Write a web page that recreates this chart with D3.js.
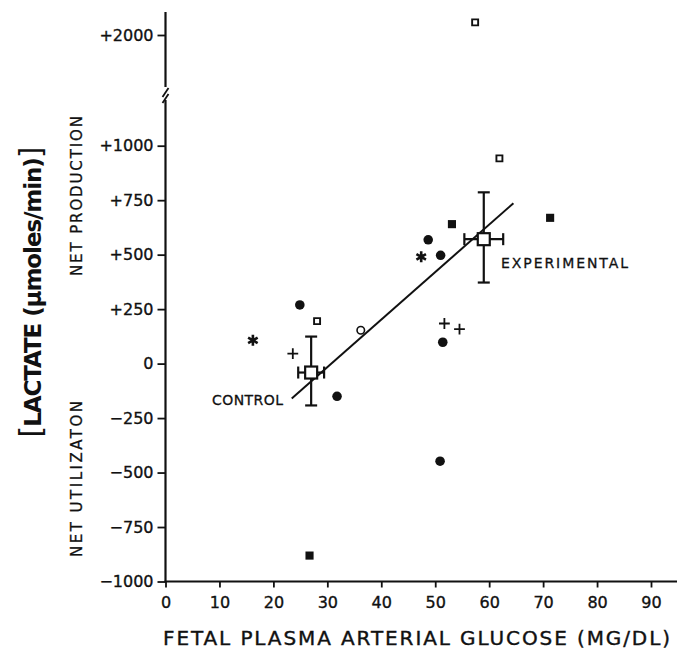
<!DOCTYPE html>
<html>
<head>
<meta charset="utf-8">
<script src="https://cdn.jsdelivr.net/npm/d3@7"></script>
<style>
  body { margin: 0; background: #fff; }
  text { font-family: "DejaVu Sans", sans-serif; fill: #111; }
</style>
</head>
<body>
<div id="chart"></div>
<script>
// values: [glucose mg/dL, lactate umoles/min]
var filledCircles = [[24.9, 269], [31.8, -150], [48.7, 568], [51.0, 497], [51.4, 98], [50.9, -448]];
var filledSquares = [[53.1, 640], [71.3, 669], [26.7, -881]];
var openSquares = [[28.1, 195], [61.9, 942], [57.4, 2058]];
var openCircles = [[36.2, 153]];
var asterisks = [[16.2, 107], [47.4, 490]];
var pluses = [[23.6, 46], [51.7, 184], [54.5, 158]];

var groupNames = ["CONTROL", "EXPERIMENTAL"];
var groupX = [27.0, 59.0];
var groupXErr = [2.4, 3.6];
var groupY = [-41, 571];
var groupYLow = [-192, 372];
var groupYHigh = [124, 786];

var fitX = [23.4, 64.5];
var fitIntercept = -670;
var fitSlope = 21.8;

var xTicks = [0, 10, 20, 30, 40, 50, 60, 70, 80, 90];
var yTicks = [1000, 750, 500, 250, 0, -250, -500, -750, -1000];
var yTickLabels = ["+1000", "+750", "+500", "+250", "0", "\u2212250", "\u2212500", "\u2212750", "\u22121000"];
var yTopTicks = [2000];
var yTopTickLabels = ["+2000"];

var ink = "#111";

var svg = d3.select("#chart").append("svg")
  .attr("width", 677)
  .attr("height", 652);

var x = d3.scaleLinear().domain([0, 90]).range([165.5, 651]);
var y = d3.scaleLinear().domain([-1000, 1000]).range([581.5, 145.7]);
var pxPerUnit = (581.5 - 145.7) / 2000;
var yTop = d3.scaleLinear().domain([1900, 2100]).range([35 + 100 * pxPerUnit, 35 - 100 * pxPerUnit]);

function yPos(v) {
  return v > 1500 ? yTop(v) : y(v);
}

// axes
var xAxis = svg.append("g")
  .attr("transform", "translate(0," + y(-1000) + ")")
  .call(d3.axisBottom(x).tickValues(xTicks).tickSize(6).tickPadding(9));

var yAxis = svg.append("g")
  .attr("transform", "translate(" + x(0) + ",0)")
  .call(d3.axisLeft(y).tickValues(yTicks).tickSize(8).tickPadding(4)
    .tickFormat(function(d, i) { return yTickLabels[i]; }));

var yAxisTop = svg.append("g")
  .attr("transform", "translate(" + x(0) + ",0)")
  .call(d3.axisLeft(yTop).tickValues(yTopTicks).tickSize(8).tickPadding(4)
    .tickFormat(function(d, i) { return yTopTickLabels[i]; }));

[xAxis, yAxis, yAxisTop].forEach(function(g) {
  g.select(".domain").remove();
  g.selectAll("line").attr("stroke", ink).attr("stroke-width", 1.8);
  g.selectAll("text").attr("font-size", 16).attr("fill", ink)
    .attr("stroke", ink).attr("stroke-width", 0.35)
    .style("font-family", "'DejaVu Sans', sans-serif");
});

// axis lines with the break
svg.append("line")
  .attr("x1", x(0) - 1).attr("x2", 677)
  .attr("y1", y(-1000)).attr("y2", y(-1000))
  .attr("stroke", ink).attr("stroke-width", 2.2);

svg.append("line")
  .attr("x1", x(0)).attr("x2", x(0))
  .attr("y1", y(-1000)).attr("y2", 100)
  .attr("stroke", ink).attr("stroke-width", 2.2);

svg.append("line")
  .attr("x1", x(0)).attr("x2", x(0))
  .attr("y1", 12).attr("y2", 87)
  .attr("stroke", ink).attr("stroke-width", 2.2);

svg.selectAll("line.break")
  .data([0, 6])
  .enter().append("line")
    .attr("class", "break")
    .attr("x1", x(0) - 3).attr("x2", x(0) + 3)
    .attr("y1", function(d) { return 97 + d; })
    .attr("y2", function(d) { return 88 + d; })
    .attr("stroke", ink).attr("stroke-width", 1.8);

// regression line
svg.append("line")
  .attr("x1", x(fitX[0])).attr("y1", y(fitIntercept + fitSlope * fitX[0]))
  .attr("x2", x(fitX[1])).attr("y2", y(fitIntercept + fitSlope * fitX[1]))
  .attr("stroke", ink).attr("stroke-width", 2);

// group means with error bars
var groups = svg.selectAll("g.group")
  .data(groupNames)
  .enter().append("g")
    .attr("class", "group");

groups.append("line")
  .attr("x1", function(d, i) { return x(groupX[i]); })
  .attr("x2", function(d, i) { return x(groupX[i]); })
  .attr("y1", function(d, i) { return y(groupYLow[i]); })
  .attr("y2", function(d, i) { return y(groupYHigh[i]); })
  .attr("stroke", ink).attr("stroke-width", 2.2);

groups.append("line")
  .attr("x1", function(d, i) { return x(groupX[i] - groupXErr[i]); })
  .attr("x2", function(d, i) { return x(groupX[i] + groupXErr[i]); })
  .attr("y1", function(d, i) { return y(groupY[i]); })
  .attr("y2", function(d, i) { return y(groupY[i]); })
  .attr("stroke", ink).attr("stroke-width", 2.2);

[groupYLow, groupYHigh].forEach(function(arr) {
  groups.append("line")
    .attr("x1", function(d, i) { return x(groupX[i]) - 6; })
    .attr("x2", function(d, i) { return x(groupX[i]) + 6; })
    .attr("y1", function(d, i) { return y(arr[i]); })
    .attr("y2", function(d, i) { return y(arr[i]); })
    .attr("stroke", ink).attr("stroke-width", 2.2);
});

[-1, 1].forEach(function(s) {
  groups.append("line")
    .attr("x1", function(d, i) { return x(groupX[i] + s * groupXErr[i]); })
    .attr("x2", function(d, i) { return x(groupX[i] + s * groupXErr[i]); })
    .attr("y1", function(d, i) { return y(groupY[i]) - 6; })
    .attr("y2", function(d, i) { return y(groupY[i]) + 6; })
    .attr("stroke", ink).attr("stroke-width", 2.2);
});

groups.append("rect")
  .attr("x", function(d, i) { return x(groupX[i]) - 6; })
  .attr("y", function(d, i) { return y(groupY[i]) - 6; })
  .attr("width", 12)
  .attr("height", 12)
  .attr("fill", "#fff")
  .attr("stroke", ink)
  .attr("stroke-width", 2.2);

svg.append("text")
  .attr("x", 212).attr("y", 405)
  .attr("font-size", 14)
  .attr("stroke", ink).attr("stroke-width", 0.3)
  .attr("textLength", 71)
  .text(groupNames[0]);

svg.append("text")
  .attr("x", 501).attr("y", 268)
  .attr("font-size", 14)
  .attr("stroke", ink).attr("stroke-width", 0.3)
  .attr("textLength", 127)
  .text(groupNames[1]);

// individual points
function pos(d) {
  return "translate(" + x(d[0]) + "," + yPos(d[1]) + ")";
}

svg.selectAll("path.fcircle")
  .data(filledCircles)
  .enter().append("path")
    .attr("class", "fcircle")
    .attr("d", d3.symbol(d3.symbolCircle, 72))
    .attr("transform", pos)
    .attr("fill", ink);

svg.selectAll("path.fsquare")
  .data(filledSquares)
  .enter().append("path")
    .attr("class", "fsquare")
    .attr("d", d3.symbol(d3.symbolSquare, 66))
    .attr("transform", pos)
    .attr("fill", ink);

svg.selectAll("path.osquare")
  .data(openSquares)
  .enter().append("path")
    .attr("class", "osquare")
    .attr("d", d3.symbol(d3.symbolSquare, 36))
    .attr("transform", pos)
    .attr("fill", "#fff")
    .attr("stroke", ink)
    .attr("stroke-width", 1.9);

svg.selectAll("path.ocircle")
  .data(openCircles)
  .enter().append("path")
    .attr("class", "ocircle")
    .attr("d", d3.symbol(d3.symbolCircle, 44))
    .attr("transform", pos)
    .attr("fill", "#fff")
    .attr("stroke", ink)
    .attr("stroke-width", 1.6);

svg.selectAll("path.aster")
  .data(asterisks)
  .enter().append("path")
    .attr("class", "aster")
    .attr("d", d3.symbol(d3.symbolAsterisk, 85))
    .attr("transform", pos)
    .attr("fill", "none")
    .attr("stroke", ink)
    .attr("stroke-width", 2.6);

svg.selectAll("path.plus")
  .data(pluses)
  .enter().append("path")
    .attr("class", "plus")
    .attr("d", d3.symbol(d3.symbolPlus, 40))
    .attr("transform", pos)
    .attr("fill", "none")
    .attr("stroke", ink)
    .attr("stroke-width", 1.8);

// axis titles
svg.append("text")
  .attr("x", 163).attr("y", 645)
  .attr("font-size", 20)
  .attr("stroke", ink).attr("stroke-width", 0.4)
  .attr("textLength", 507)
  .text("FETAL PLASMA ARTERIAL GLUCOSE (MG/DL)");

svg.append("text")
  .attr("transform", "translate(82,196) rotate(-90)")
  .attr("text-anchor", "middle")
  .attr("font-size", 15)
  .attr("stroke", ink).attr("stroke-width", 0.3)
  .attr("textLength", 160)
  .text("NET PRODUCTION");

svg.append("text")
  .attr("transform", "translate(82,479) rotate(-90)")
  .attr("text-anchor", "middle")
  .attr("font-size", 15)
  .attr("stroke", ink).attr("stroke-width", 0.3)
  .attr("textLength", 156)
  .text("NET UTILIZATON");

var yTitle = svg.append("text")
  .attr("transform", "translate(41,292) rotate(-90)")
  .attr("text-anchor", "middle")
  .attr("font-size", 23)
  .attr("font-weight", "bold")
  .attr("textLength", 291);
yTitle.append("tspan").attr("font-size", 30).attr("font-weight", "normal").text("[");
yTitle.append("tspan").text("LACTATE (\u03bcmoles/min)");
yTitle.append("tspan").attr("font-size", 30).attr("font-weight", "normal").text("]");
</script>
</body>
</html>
